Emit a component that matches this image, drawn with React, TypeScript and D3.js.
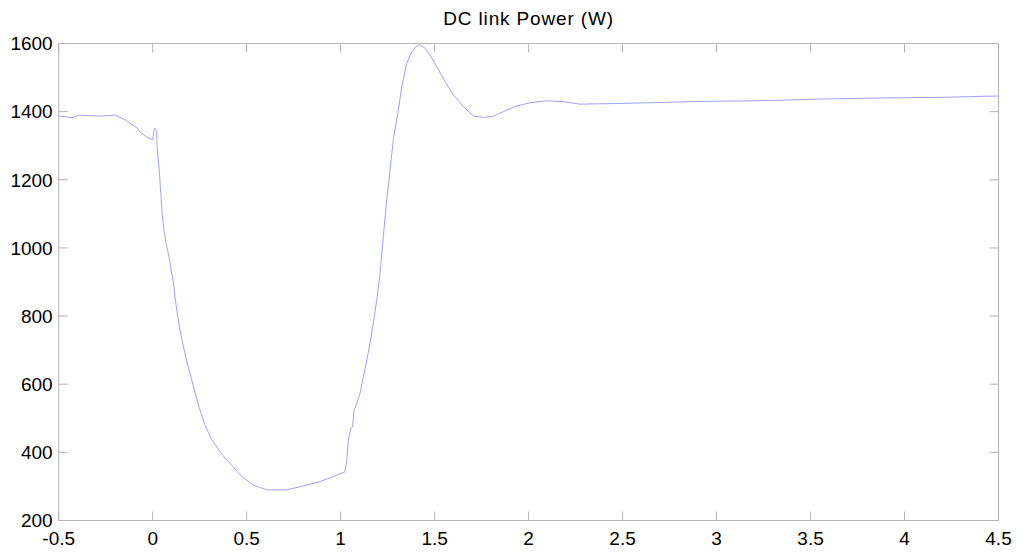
import React from "react";
import * as d3 from "d3";

const title = "DC link Power (W)";
const xTicks = [-0.5, 0, 0.5, 1, 1.5, 2, 2.5, 3, 3.5, 4, 4.5];
const yTicks = [200, 400, 600, 800, 1000, 1200, 1400, 1600];

const timeS = [
  -0.5, -0.461, -0.43, -0.392, -0.334, -0.28, -0.227, -0.2, -0.147, -0.12, -0.083, -0.068, -0.03, 0.0,
  0.007, 0.014, 0.021, 0.024, 0.035, 0.043, 0.051, 0.06, 0.071, 0.087, 0.101, 0.11, 0.12, 0.131,
  0.145, 0.163, 0.181, 0.208, 0.225, 0.248, 0.278, 0.314, 0.358, 0.385, 0.411, 0.474, 0.535, 0.607,
  0.713, 0.784, 0.89, 0.961, 1.023,
  1.032, 1.041, 1.054, 1.064, 1.071, 1.086, 1.103, 1.121, 1.139, 1.156, 1.174, 1.192, 1.21, 1.227,
  1.245, 1.263, 1.28, 1.307, 1.325, 1.352, 1.378, 1.405, 1.423, 1.449, 1.476, 1.511, 1.556, 1.6,
  1.653, 1.706, 1.759, 1.813, 1.866, 1.937, 2.008, 2.097, 2.185, 2.274, 2.487, 2.7, 2.913, 3.232,
  3.551, 3.87, 4.189, 4.5,
];
const powerW = [
  1387, 1385, 1382, 1390, 1388, 1387, 1389, 1390, 1376, 1366, 1352, 1341, 1325, 1317,
  1346, 1351, 1341, 1292, 1229, 1160, 1097, 1053, 1014, 974, 926, 900, 850, 808,
  760, 712, 668, 612, 575, 530, 480, 438, 402, 383, 368, 329, 304, 290,
  290, 299, 314, 329, 343,
  373, 436, 471, 475, 524, 544, 573, 622, 671, 720, 779, 847, 926, 1033,
  1141, 1229, 1317, 1405, 1473, 1542, 1576, 1593, 1596, 1586, 1566, 1532, 1488, 1449,
  1415, 1387, 1383, 1387, 1400, 1417, 1426, 1432, 1429, 1422, 1424, 1427, 1430, 1432,
  1437, 1440, 1442, 1446,
];

const W = 1024;
const H = 556;
const L = 58.7;
const R = 998.5;
const T = 43.5;
const B = 520.5;
const TICK = 9;
const AXIS = "#b4b4b4";
const FONT = "'Liberation Sans', Arial, sans-serif";

export default function App() {
  const x = d3.scaleLinear().domain([-0.5, 4.5]).range([L, R]);
  const y = d3.scaleLinear().domain([200, 1600]).range([B, T]);
  const pts: [number, number][] = timeS.map((t, i) => [t, powerW[i]]);
  const line = d3
    .line<[number, number]>()
    .x((d) => x(d[0]))
    .y((d) => y(d[1]));

  return (
    <svg
      width={W}
      height={H}
      style={{ position: "absolute", left: 0, top: 0, background: "#fff" }}
      fontFamily={FONT}
    >
      <rect x={0} y={0} width={W} height={H} fill="#fff" />
      <text
        x={(L + R) / 2}
        y={25}
        textAnchor="middle"
        fontSize={19}
        letterSpacing={0.85}
        fill="#000"
      >
        {title}
      </text>
      <rect x={L} y={T} width={R - L} height={B - T} fill="none" stroke={AXIS} strokeWidth={1} />
      {xTicks.map((t) => (
        <g key={"x" + t}>
          <line x1={x(t)} x2={x(t)} y1={B} y2={B - TICK} stroke={AXIS} />
          <line x1={x(t)} x2={x(t)} y1={T} y2={T + TICK} stroke={AXIS} />
          <text x={x(t)} y={545} textAnchor="middle" fontSize={19} fill="#000">
            {String(t)}
          </text>
        </g>
      ))}
      {yTicks.map((v) => (
        <g key={"y" + v}>
          <line x1={L} x2={L + TICK} y1={y(v)} y2={y(v)} stroke={AXIS} />
          <line x1={R} x2={R - TICK} y1={y(v)} y2={y(v)} stroke={AXIS} />
          <text x={52.7} y={y(v) + 6.8} textAnchor="end" fontSize={19} fill="#000">
            {String(v)}
          </text>
        </g>
      ))}
      <path d={line(pts) || ""} fill="none" stroke="#a0a0ff" strokeWidth={1} />
    </svg>
  );
}
